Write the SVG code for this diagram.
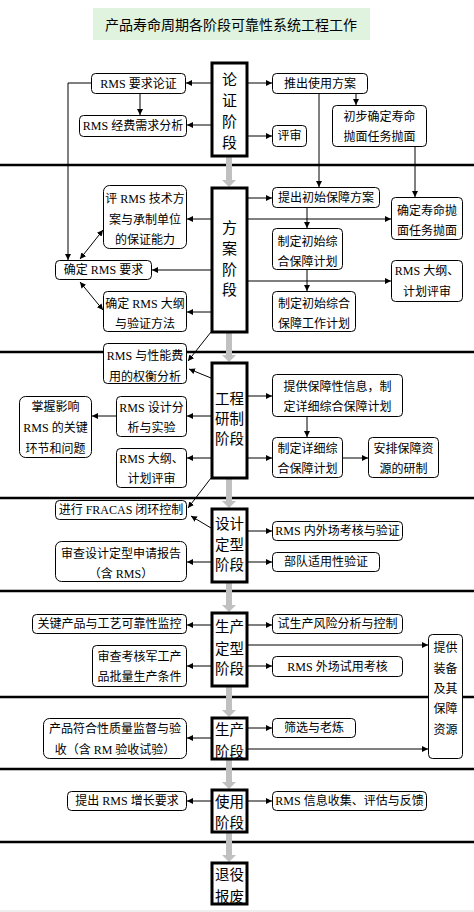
<svg xmlns="http://www.w3.org/2000/svg" width="474" height="912" viewBox="0 0 474 912">
<style>
.bg{fill:#fff}
.sep{stroke:#000;stroke-width:2.5}
.box{fill:#fff;stroke:#000;stroke-width:1}
.ph{fill:#fff;stroke:#000;stroke-width:3}
.t{font-family:"Liberation Serif","Noto Sans CJK SC",serif;font-size:12px;text-anchor:middle;dominant-baseline:central;fill:#000}
.pt{font-family:"Noto Sans CJK SC",sans-serif;font-size:15px;text-anchor:middle;dominant-baseline:central;fill:#000}
.pt2{font-family:"Noto Sans CJK SC",sans-serif;font-size:14.5px;text-anchor:middle;dominant-baseline:central;fill:#000}
.title{font-family:"Noto Sans CJK SC",sans-serif;font-size:14px;text-anchor:middle;dominant-baseline:central;fill:#000}
.c{fill:none;stroke:#000;stroke-width:1;marker-end:url(#ah)}
.d{fill:none;stroke:#000;stroke-width:1;marker-end:url(#ah);marker-start:url(#ah)}
.g{fill:#c0c0c0}
</style>
<defs>
<marker id="ah" markerUnits="userSpaceOnUse" markerWidth="7" markerHeight="6" refX="6" refY="3" orient="auto-start-reverse">
<path d="M0,0 L6,3 L0,6 z" fill="#000"/>
</marker>
</defs>
<rect class="bg" x="0" y="0" width="474" height="912"/>
<line x1="0" y1="911" x2="474" y2="911" stroke="#dddddd" stroke-width="1"/>

<g id="separators">
<line class="sep" x1="0" y1="165" x2="474" y2="165"/>
<line class="sep" x1="0" y1="352" x2="474" y2="352"/>
<line class="sep" x1="0" y1="498" x2="474" y2="498"/>
<line class="sep" x1="0" y1="591" x2="474" y2="591"/>
<line class="sep" x1="0" y1="697" x2="474" y2="697"/>
<line class="sep" x1="0" y1="769" x2="474" y2="769"/>
<line class="sep" x1="0" y1="842" x2="474" y2="842"/>
</g>

<g id="title">
<rect x="93" y="8" width="277" height="32" fill="#dff3df"/>
<text class="title" x="231" y="24">产品寿命周期各阶段可靠性系统工程工作</text>
</g>

<g id="flow">
<path class="g" d="M226,156 H232 V180 H236 L229,187 L222,180 H226 Z"/>
<path class="g" d="M226,332 H232 V355 H236 L229,362 L222,355 H226 Z"/>
<path class="g" d="M226,478 H232 V501 H236 L229,508 L222,501 H226 Z"/>
<path class="g" d="M226,582 H232 V605 H236 L229,612 L222,605 H226 Z"/>
<path class="g" d="M226,686 H232 V710 H236 L229,717 L222,710 H226 Z"/>
<path class="g" d="M226,759 H232 V782 H236 L229,789 L222,782 H226 Z"/>
<path class="g" d="M226,832 H232 V855 H236 L229,862 L222,855 H226 Z"/>
</g>

<g id="connectors">
<line class="c" x1="211" y1="83" x2="186" y2="83"/>
<line class="c" x1="211" y1="125" x2="187" y2="125"/>
<line class="c" x1="247" y1="83" x2="272" y2="83"/>
<line class="c" x1="247" y1="136" x2="272" y2="136"/>
<line class="c" x1="140" y1="93" x2="140" y2="115"/>
<line class="c" x1="356" y1="93" x2="356" y2="105"/>
<polyline class="c" points="91,83 68,83 68,260"/>
<line class="c" x1="319" y1="93" x2="319" y2="187"/>
<line class="c" x1="415" y1="146" x2="415" y2="197"/>

<line class="c" x1="247" y1="198" x2="272" y2="198"/>
<line class="c" x1="247" y1="219" x2="391" y2="219"/>
<line class="c" x1="247" y1="281" x2="391" y2="281"/>
<line class="c" x1="307" y1="208" x2="307" y2="228"/>
<line class="c" x1="307" y1="270" x2="307" y2="291"/>
<line class="c" x1="211" y1="219" x2="187" y2="219"/>
<line class="c" x1="211" y1="270" x2="152" y2="270"/>
<line class="c" x1="211" y1="312" x2="187" y2="312"/>
<line class="d" x1="80" y1="259" x2="103" y2="230"/>
<line class="d" x1="80" y1="282" x2="103" y2="310"/>
<line class="c" x1="211" y1="332" x2="188" y2="361"/>

<line class="c" x1="211" y1="378" x2="189" y2="369"/>
<line class="c" x1="247" y1="396" x2="272" y2="396"/>
<line class="c" x1="247" y1="458" x2="272" y2="458"/>
<line class="c" x1="307" y1="417" x2="307" y2="437"/>
<line class="c" x1="343" y1="458" x2="368" y2="458"/>
<line class="c" x1="211" y1="416" x2="187" y2="416"/>
<line class="c" x1="116" y1="416" x2="92" y2="416"/>
<line class="c" x1="211" y1="458" x2="187" y2="458"/>
<line class="c" x1="211" y1="478" x2="188" y2="508"/>

<line class="c" x1="211" y1="528" x2="191" y2="516"/>
<line class="c" x1="247" y1="531" x2="272" y2="531"/>
<line class="c" x1="247" y1="562" x2="272" y2="562"/>
<line class="c" x1="211" y1="562" x2="187" y2="562"/>

<line class="c" x1="211" y1="625" x2="187" y2="625"/>
<line class="c" x1="247" y1="625" x2="272" y2="625"/>
<line class="c" x1="247" y1="645" x2="428" y2="645"/>
<line class="c" x1="211" y1="666" x2="187" y2="666"/>
<line class="c" x1="247" y1="666" x2="272" y2="666"/>

<line class="c" x1="211" y1="738" x2="187" y2="738"/>
<line class="c" x1="247" y1="728" x2="272" y2="728"/>
<line class="c" x1="247" y1="749" x2="428" y2="749"/>

<line class="c" x1="211" y1="801" x2="187" y2="801"/>
<line class="c" x1="247" y1="801" x2="272" y2="801"/>
</g>

<g id="p1"><rect class="ph" x="212" y="63" width="35" height="93"/>
<text class="pt" x="229.5" y="78">论</text><text class="pt" x="229.5" y="99">证</text><text class="pt" x="229.5" y="120">阶</text><text class="pt" x="229.5" y="141">段</text></g>
<g id="p2"><rect class="ph" x="212" y="188" width="35" height="144"/>
<text class="pt" x="229.5" y="226">方</text><text class="pt" x="229.5" y="247">案</text><text class="pt" x="229.5" y="268">阶</text><text class="pt" x="229.5" y="288">段</text></g>
<g id="p3"><rect class="ph" x="212" y="363" width="35" height="115"/>
<text class="pt2" x="229.5" y="397">工程</text><text class="pt2" x="229.5" y="417">研制</text><text class="pt2" x="229.5" y="437">阶段</text></g>
<g id="p4"><rect class="ph" x="212" y="509" width="35" height="73"/>
<text class="pt2" x="229.5" y="522">设计</text><text class="pt2" x="229.5" y="543">定型</text><text class="pt2" x="229.5" y="563">阶段</text></g>
<g id="p5"><rect class="ph" x="212" y="613" width="35" height="73"/>
<text class="pt2" x="229.5" y="625">生产</text><text class="pt2" x="229.5" y="647">定型</text><text class="pt2" x="229.5" y="667">阶段</text></g>
<g id="p6"><rect class="ph" x="212" y="718" width="35" height="41"/>
<text class="pt2" x="229.5" y="728">生产</text><text class="pt2" x="229.5" y="750">阶段</text></g>
<g id="p7"><rect class="ph" x="212" y="790" width="35" height="42"/>
<text class="pt2" x="229.5" y="800">使用</text><text class="pt2" x="229.5" y="821">阶段</text></g>
<g id="p8"><rect class="ph" x="212" y="863" width="35" height="41"/>
<text class="pt2" x="229.5" y="873">退役</text><text class="pt2" x="229.5" y="895">报废</text></g>

<g id="n1"><rect class="box" x="91.5" y="73.5" width="94" height="20" rx="4"/><text class="t" x="138.5" y="83.5">RMS 要求论证</text></g>
<g id="n2"><rect class="box" x="79.5" y="115.5" width="107" height="21" rx="4"/><text class="t" x="133" y="126">RMS 经费需求分析</text></g>
<g id="n3"><rect class="box" x="272.5" y="73.5" width="95" height="20" rx="4"/><text class="t" x="320" y="83.5">推出使用方案</text></g>
<g id="n4"><rect class="box" x="272.5" y="125.5" width="34" height="21" rx="4"/><text class="t" x="289.5" y="136">评审</text></g>
<g id="n5"><rect class="box" x="332.5" y="105.5" width="94" height="41" rx="4"/><text class="t" x="379.5" y="116.5">初步确定寿命</text><text class="t" x="379.5" y="137">抛面任务抛面</text></g>

<g id="n6"><rect class="box" x="103.5" y="185.5" width="83" height="63" rx="6"/><text class="t" x="145" y="199">评 RMS 技术方</text><text class="t" x="145" y="220">案与承制单位</text><text class="t" x="145" y="240">的保证能力</text></g>
<g id="n7"><rect class="box" x="55.5" y="260.5" width="96" height="19" rx="4"/><text class="t" x="103.5" y="270">确定 RMS 要求</text></g>
<g id="n8"><rect class="box" x="103.5" y="291.5" width="83" height="40" rx="4"/><text class="t" x="145" y="304">确定 RMS 大纲</text><text class="t" x="145" y="324">与验证方法</text></g>
<g id="n9"><rect class="box" x="272.5" y="187.5" width="107" height="20" rx="4"/><text class="t" x="326" y="197.5">提出初始保障方案</text></g>
<g id="n10"><rect class="box" x="391.5" y="197.5" width="71" height="42" rx="4"/><text class="t" x="427" y="211">确定寿命抛</text><text class="t" x="427" y="231">面任务抛面</text></g>
<g id="n11"><rect class="box" x="272.5" y="228.5" width="70" height="41" rx="4"/><text class="t" x="307.5" y="241.5">制定初始综</text><text class="t" x="307.5" y="262">合保障计划</text></g>
<g id="n12"><rect class="box" x="391.5" y="260.5" width="71" height="41" rx="4"/><text class="t" x="427" y="271">RMS 大纲、</text><text class="t" x="427" y="292">计划评审</text></g>
<g id="n13"><rect class="box" x="272.5" y="291.5" width="83" height="40" rx="4"/><text class="t" x="314" y="304">制定初始综合</text><text class="t" x="314" y="324">保障工作计划</text></g>

<g id="n14"><rect class="box" x="103.5" y="343.5" width="83" height="40" rx="4"/><text class="t" x="145" y="356">RMS 与性能费</text><text class="t" x="145" y="377">用的权衡分析</text></g>
<g id="n15"><rect class="box" x="272.5" y="374.5" width="130" height="42" rx="4"/><text class="t" x="337.5" y="387">提供保障性信息，制</text><text class="t" x="337.5" y="407">定详细综合保障计划</text></g>
<g id="n16"><rect class="box" x="272.5" y="437.5" width="70" height="40" rx="4"/><text class="t" x="307.5" y="449">制定详细综</text><text class="t" x="307.5" y="469">合保障计划</text></g>
<g id="n17"><rect class="box" x="368.5" y="437.5" width="70" height="40" rx="4"/><text class="t" x="403.5" y="449">安排保障资</text><text class="t" x="403.5" y="469">源的研制</text></g>
<g id="n18"><rect class="box" x="116.5" y="396.5" width="70" height="40" rx="4"/><text class="t" x="151.5" y="408">RMS 设计分</text><text class="t" x="151.5" y="428">析与实验</text></g>
<g id="n19"><rect class="box" x="19.5" y="396.5" width="72" height="61" rx="6"/><text class="t" x="55.5" y="407">掌握影响</text><text class="t" x="55.5" y="428">RMS 的关键</text><text class="t" x="55.5" y="449">环节和问题</text></g>
<g id="n20"><rect class="box" x="116.5" y="448.5" width="70" height="39" rx="4"/><text class="t" x="151.5" y="459">RMS 大纲、</text><text class="t" x="151.5" y="479">计划评审</text></g>

<g id="n21"><rect class="box" x="55.5" y="500.5" width="131" height="19" rx="4"/><text class="t" x="121" y="510">进行 FRACAS 闭环控制</text></g>
<g id="n22"><rect class="box" x="272.5" y="521.5" width="130" height="19" rx="4"/><text class="t" x="337.5" y="531">RMS 内外场考核与验证</text></g>
<g id="n23"><rect class="box" x="272.5" y="552.5" width="107" height="19" rx="4"/><text class="t" x="326" y="562">部队适用性验证</text></g>
<g id="n24"><rect class="box" x="55.5" y="541.5" width="131" height="40" rx="6"/><text class="t" x="121" y="554">审查设计定型申请报告</text><text class="t" x="121" y="574">（含 RMS）</text></g>

<g id="n25"><rect class="box" x="32.5" y="614.5" width="154" height="19" rx="4"/><text class="t" x="109.5" y="624">关键产品与工艺可靠性监控</text></g>
<g id="n26"><rect class="box" x="272.5" y="614.5" width="130" height="19" rx="4"/><text class="t" x="337.5" y="624">试生产风险分析与控制</text></g>
<g id="n27"><rect class="box" x="92.5" y="645.5" width="94" height="41" rx="4"/><text class="t" x="139.5" y="657">审查考核军工产</text><text class="t" x="139.5" y="677">品批量生产条件</text></g>
<g id="n28"><rect class="box" x="272.5" y="656.5" width="130" height="20" rx="4"/><text class="t" x="337.5" y="666.5">RMS 外场试用考核</text></g>
<g id="n29"><rect class="box" x="428.5" y="634.5" width="34" height="124" rx="4"/><text class="t" x="445.5" y="648">提供</text><text class="t" x="445.5" y="669">装备</text><text class="t" x="445.5" y="689">及其</text><text class="t" x="445.5" y="709">保障</text><text class="t" x="445.5" y="730">资源</text></g>

<g id="n30"><rect class="box" x="43.5" y="718.5" width="143" height="40" rx="6"/><text class="t" x="115" y="729">产品符合性质量监督与验</text><text class="t" x="115" y="750">收（含 RM 验收试验）</text></g>
<g id="n31"><rect class="box" x="272.5" y="718.5" width="83" height="19" rx="4"/><text class="t" x="314" y="728">筛选与老炼</text></g>
<g id="n32"><rect class="box" x="67.5" y="791.5" width="119" height="19" rx="4"/><text class="t" x="127" y="801">提出 RMS 增长要求</text></g>
<g id="n33"><rect class="box" x="272.5" y="791.5" width="154" height="19" rx="4"/><text class="t" x="349.5" y="801">RMS 信息收集、评估与反馈</text></g>
</svg>
